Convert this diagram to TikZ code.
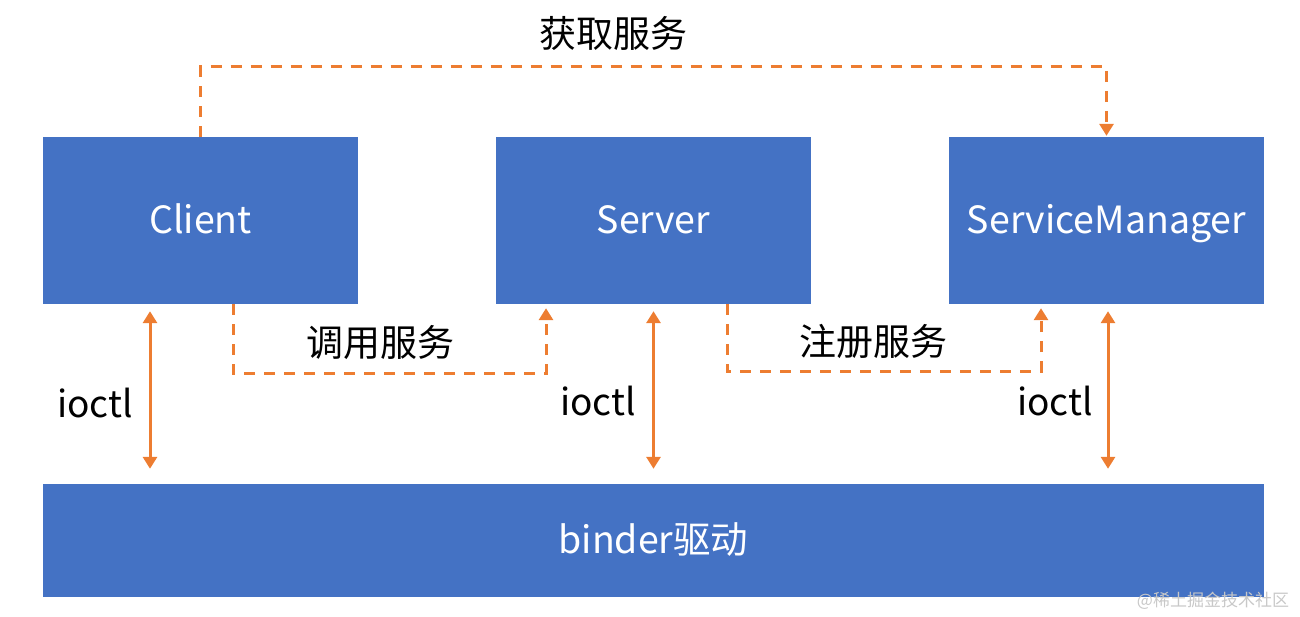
\documentclass[tikz,border=0pt]{standalone}
\usepackage{fontspec}
\setmainfont{Noto Sans CJK SC}
\usetikzlibrary{arrows.meta}
\definecolor{boxblue}{HTML}{4472C4}
\definecolor{arrorange}{HTML}{ED7D31}
\definecolor{wmgray}{HTML}{C8C8C8}
\begin{document}
\begin{tikzpicture}[x=1pt,y=-1pt,
  box/.style={fill=boxblue, draw=none, text=white, font=\fontsize{37.5}{42}\selectfont,
    inner sep=0pt, minimum width=315pt, minimum height=167pt, text height=30pt, text depth=4pt},
  lbl/.style={text=black, font=\fontsize{37}{42}\selectfont, inner sep=0pt},
  dl/.style={draw=arrorange, line width=3pt, dash pattern=on 11pt off 9pt},
  tip/.style={-{Triangle[width=14pt,length=12pt]}},
  io/.style={draw=arrorange, line width=3pt, {Triangle[width=14pt,length=12pt]}-{Triangle[width=14pt,length=12pt]}}
]
\useasboundingbox (0,0) rectangle (1300,617);

\node[box] (client) at (200.5,220.5) {Client};
\node[box] (server) at (653.5,220.5) {Server};
\node[box] (sm) at (1106.5,220.5) {ServiceManager};
\node[box, minimum width=1221pt, minimum height=113pt] (binder) at (653.5,540.5) {binder驱动};

% get service
\draw[dl, tip, shorten >=1pt] (client.north) -- ++(0,-70) -| (sm.north);
\node[lbl] (get) at (613,33) {获取服务};

% call service
\draw[dl, tip, shorten >=4pt] ([xshift=32.5pt]client.south) -- ++(0,69) -| ([xshift=-107.5pt]server.south);
\node[lbl] (call) at (380,343) {调用服务};

% register service
\draw[dl, tip, shorten >=4pt] ([xshift=73.5pt]server.south) -- ++(0,67) -| ([xshift=-65.5pt]sm.south);
\node[lbl] (reg) at (873,341) {注册服务};

% ioctl
\coordinate (c1) at ([xshift=-50.5pt]client.south);
\coordinate (c2) at (server.south);
\coordinate (c3) at ([xshift=1.5pt]sm.south);
\draw[io, shorten <=7pt, shorten >=15pt] (c1) -- (c1 |- binder.north);
\draw[io, shorten <=7pt, shorten >=15pt] (c2) -- (c2 |- binder.north);
\draw[io, shorten <=7pt, shorten >=15pt] (c3) -- (c3 |- binder.north);
\node[lbl] (io1) at (95,403) {ioctl};
\node[lbl] (io2) at (598,401) {ioctl};
\node[lbl] (io3) at (1055,401) {ioctl};

\node[text=wmgray, font=\fontsize{17}{20}\selectfont, inner sep=0pt] (wm) at (1213,601) {@稀土掘金技术社区};
\end{tikzpicture}
\end{document}
